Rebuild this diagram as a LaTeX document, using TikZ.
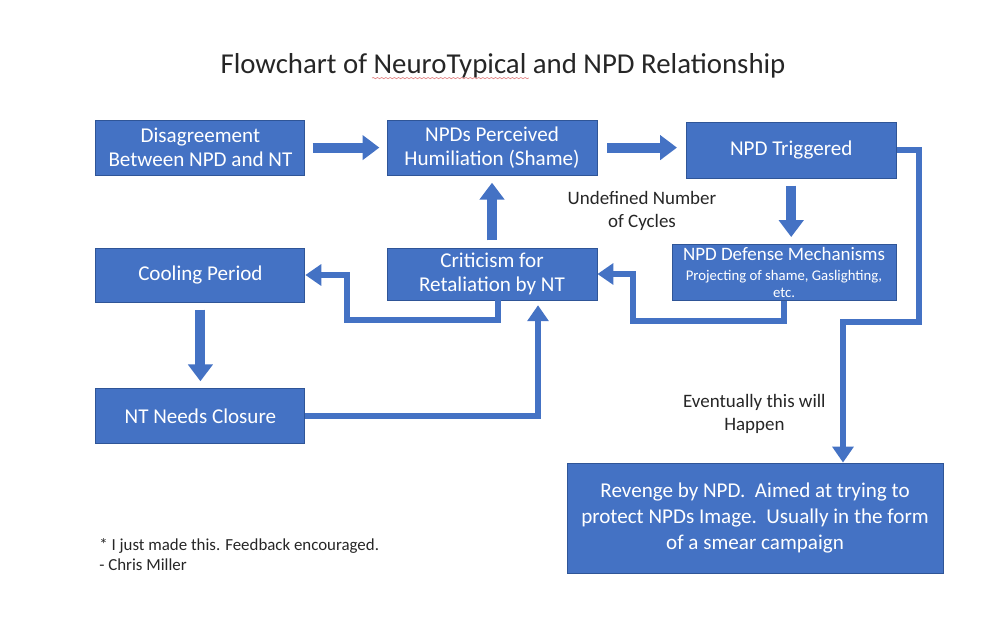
\documentclass[tikz,border=0pt]{standalone}
\usepackage{fontspec}
\setmainfont{Carlito}
\usetikzlibrary{arrows.meta, calc, decorations.pathmorphing}

\begin{document}
\begin{tikzpicture}[
    every node/.style={font=\fontsize{15}{17}\selectfont},
]

% ---------------------------------------------------------------- colours
\definecolor{boxblue}{HTML}{4472C4}   % boxes and arrows
\definecolor{boxedge}{HTML}{2F5597}
\definecolor{inkgray}{HTML}{262626}   % loose text
\definecolor{spellred}{HTML}{E58A8A}

\tikzset{
    stepbox/.style={rectangle, draw=boxedge, line width=0.6pt, fill=boxblue,
                    text=white, align=center, inner sep=2pt},
    fatarrow/.style={draw=boxblue, line width=0.25cm,
                     -{Triangle[width=0.6cm, length=0.42cm]},
                     shorten <=0.18cm, shorten >=0.18cm},
    elbow/.style={draw=boxblue, line width=0.15cm, line join=miter,
                  -{Triangle[width=0.52cm, length=0.4cm]}},
    note/.style={text=inkgray, align=center, font=\fontsize{13.5}{16.5}\selectfont},
}

\useasboundingbox (0,0) rectangle (24.825,-15.475);

% ================================================================
% 1px of the sketch = 0.025cm, y runs downwards
%   top row     y = -3.7
%   middle row  y = -6.85
%   bottom row  y = -10.4 / -12.95
% ================================================================

\node[font=\fontsize{20.5}{24}\selectfont, text=inkgray] (title) at (12.575,-1.65)
    {Flowchart of NeuroTypical and NPD Relationship};
\draw[spellred, line width=0.5pt, decorate,
      decoration={snake, amplitude=0.45pt, segment length=3pt}]
    ($(title.south west)!0.272!(title.south east)+(0,0.13)$)
    -- ($(title.south west)!0.545!(title.south east)+(0,0.13)$);

% ---------------------------------------------------------------- boxes
\node[stepbox, minimum width=5.225cm, minimum height=1.375cm] (dis) at (5.01,-3.69)
    {Disagreement\\Between NPD and NT};
\node[stepbox, minimum width=5.25cm, minimum height=1.375cm] (hum) at (12.3,-3.69)
    {NPDs Perceived\\Humiliation (Shame)};
\node[stepbox, minimum width=5.25cm, minimum height=1.4cm] (trig) at (19.78,-3.75)
    {NPD Triggered};

\node[stepbox, minimum width=5.225cm, minimum height=1.35cm] (cool) at (5.01,-6.875)
    {Cooling Period};
\node[stepbox, minimum width=5.25cm, minimum height=1.3cm] (crit) at (12.3,-6.85)
    {Criticism for\\Retaliation by NT};
\node[stepbox, minimum width=5.6cm, minimum height=1.375cm,
      font=\fontsize{10.5}{12}\selectfont] (def) at (19.6,-6.81)
    {{\fontsize{13.5}{16}\selectfont NPD Defense Mechanisms}\\[2pt]
     Projecting of shame, Gaslighting,\\etc.};

\node[stepbox, minimum width=5.225cm, minimum height=1.375cm] (clos) at (5.01,-10.41)
    {NT Needs Closure};
\node[stepbox, minimum width=9.4cm, minimum height=2.75cm,
      font=\fontsize{15}{18.5}\selectfont] (rev) at (18.875,-12.95)
    {Revenge by NPD.\ \ Aimed at trying to\\
     protect NPDs Image.\ \ Usually in the form\\
     of a smear campaign};

% ---------------------------------------------------------------- loose text
\node[note] (cycles) at (16.05,-5.275) {Undefined Number\\of Cycles};
\node[note] (later) at (18.86,-10.35) {Eventually this will\\Happen};
\node[text=inkgray, anchor=west, align=left, font=\fontsize{12}{14}\selectfont]
    (credit) at (2.36,-13.86) {* I just made this. Feedback encouraged.\\- Chris Miller};

% ---------------------------------------------------------------- arrows
\draw[fatarrow] (dis.east) -- (hum.west);
\draw[fatarrow, shorten >=0.22cm, shorten <=0.25cm] (hum.east) -- (hum.east -| trig.west);
\draw[fatarrow] (trig.south) -- (trig.south |- def.north);
\draw[fatarrow] (crit.north) -- (hum.south);
\draw[fatarrow] (cool.south) -- (clos.north);

\draw[elbow] ([xshift=0.15cm]crit.south) -- ++(0,-0.5)
    -| ([xshift=1.05cm]cool.east) -- (cool.east);
\draw[elbow] (def.south) -- ++(0,-0.5)
    -| ([xshift=0.9cm]crit.east) -- (crit.east);

\coordinate (drop) at (21.075,-8.05);
\draw[elbow] (trig.east) -- ++(0.55,0) |- (drop) -- (drop |- rev.north);

\draw[elbow] (clos.east) -| ([xshift=1.15cm, yshift=-0.12cm]crit.south);

\end{tikzpicture}
\end{document}
